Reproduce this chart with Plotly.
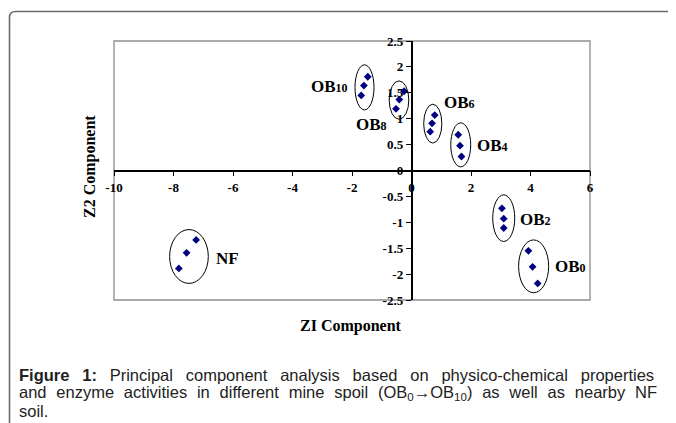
import plotly.graph_objects as go

# ---- data ----
groups = ["OB10", "OB8", "OB6", "OB4", "OB2", "OB0", "NF"]
pc1_OB10 = [-1.47, -1.60, -1.69]
pc2_OB10 = [1.81, 1.64, 1.45]
pc1_OB8 = [-0.25, -0.41, -0.52]
pc2_OB8 = [1.53, 1.37, 1.19]
pc1_OB6 = [0.78, 0.69, 0.63]
pc2_OB6 = [1.07, 0.91, 0.75]
pc1_OB4 = [1.57, 1.63, 1.68]
pc2_OB4 = [0.69, 0.48, 0.27]
pc1_OB2 = [3.04, 3.10, 3.10]
pc2_OB2 = [-0.73, -0.93, -1.11]
pc1_OB0 = [3.93, 4.07, 4.24]
pc2_OB0 = [-1.55, -1.86, -2.18]
pc1_NF = [-7.24, -7.56, -7.82]
pc2_NF = [-1.34, -1.59, -1.89]

x_ticks = [-10, -8, -6, -4, -2, 0, 2, 4, 6]
y_ticks = [-2.5, -2, -1.5, -1, -0.5, 0, 0.5, 1, 1.5, 2, 2.5]
y_tick_labels = ["-2.5", "-2", "-1.5", "-1", "-0.5", "0", "0.5", "1", "1.5", "2", "2.5"]

pc1 = pc1_OB10 + pc1_OB8 + pc1_OB6 + pc1_OB4 + pc1_OB2 + pc1_OB0 + pc1_NF
pc2 = pc2_OB10 + pc2_OB8 + pc2_OB6 + pc2_OB4 + pc2_OB2 + pc2_OB0 + pc2_NF

# ---- layout geometry (page has an 8px body margin) ----
OFF = 8
W, H = 676 - OFF, 423 - OFF
L, R, T, B = 114, 590, 41, 300   # plot area in window pixels


def px(x):
    return (x - L) / (R - L)


def py(y):
    return (B - y) / (B - T)


serif = "Liberation Serif, Times New Roman, serif"
sans = "Liberation Sans, Arial, sans-serif"

fig = go.Figure()
fig.add_trace(go.Scatter(
    x=pc1, y=pc2, mode="markers",
    marker=dict(symbol="diamond", size=6, color="#000080"),
    showlegend=False, hoverinfo="x+y",
))

# ellipses around groups
ellipses = [
    (-1.90, -1.26, 1.17, 2.04),
    (-0.75, -0.09, 0.99, 1.73),
    (0.41, 1.02, 0.53, 1.28),
    (1.32, 1.99, 0.07, 0.92),
    (2.73, 3.47, -1.37, -0.47),
    (3.60, 4.61, -2.36, -1.34),
    (-8.13, -6.83, -2.18, -1.14),
]
shapes = []
for x0, x1, y0, y1 in ellipses:
    shapes.append(dict(type="circle", xref="x", yref="y", x0=x0, x1=x1, y0=y0, y1=y1,
                       line=dict(color="black", width=1)))

# plot area border
shapes.append(dict(type="rect", xref="paper", yref="paper", x0=0, x1=1, y0=0, y1=1,
                   line=dict(color="#aaaaaa", width=1.8), layer="below"))
# outer figure frame (rounded top-left corner)
fx, fy, rr = 9.5, 11.5, 6
path = (f"M {px(fx)},{py(440)} L {px(fx)},{py(fy + rr)} "
        f"Q {px(fx)},{py(fy)} {px(fx + rr)},{py(fy)} L {px(700)},{py(fy)}")
shapes.append(dict(type="path", xref="paper", yref="paper", path=path,
                   line=dict(color="#6a6a6a", width=1.6)))

lab_font = dict(family=serif, size=17, color="black", weight="bold")


def lab(base, sub):
    return f"{base}<span style='font-size:12px'>{sub}</span>"


labels = [
    (-2.08, 1.62, lab("OB", "10"), "right"),
    (-1.92, 0.88, lab("OB", "8"), "left"),
    (1.03, 1.32, lab("OB", "6"), "left"),
    (2.14, 0.49, lab("OB", "4"), "left"),
    (3.59, -0.94, lab("OB", "2"), "left"),
    (4.75, -1.86, lab("OB", "0"), "left"),
    (-6.63, -1.70, "NF", "left"),
]
annotations = []
for x, y, t, xa in labels:
    annotations.append(dict(x=x, y=y, xref="x", yref="y", text=t, showarrow=False,
                            xanchor=xa, yanchor="middle", font=lab_font))

title_font = dict(family=serif, size=16, color="black", weight="bold")
annotations.append(dict(x=px(351), y=py(326), xref="paper", yref="paper", text="ZI Component",
                        showarrow=False, xanchor="center", yanchor="middle", font=title_font))
annotations.append(dict(x=px(90), y=py(167), xref="paper", yref="paper", text="Z2 Component",
                        showarrow=False, xanchor="center", yanchor="middle", textangle=-90,
                        font=title_font))

cap_font = dict(family=sans, size=16.5, color="#222222")
caption_lines = [
    ("<span style='word-spacing:8.2px'><b>Figure 1:</b> Principal component analysis based on "
     "physico-chemical properties</span>", 375),
    ("<span style='word-spacing:5.2px'>and enzyme activities in different mine spoil "
     "(OB<sub>0</sub>→OB<sub>10</sub>) as well as nearby NF</span>", 393),
    ("soil.", 411),
]
for t, yc in caption_lines:
    annotations.append(dict(x=px(17), y=py(yc), xref="paper", yref="paper", text=t,
                            showarrow=False, xanchor="left", yanchor="middle", align="left",
                            font=cap_font))

tick_font = dict(family=serif, size=13, color="black", weight="bold")
fig.update_layout(
    width=W, height=H,
    margin=dict(l=L - OFF, r=W - (R - OFF), t=T - OFF, b=H - (B - OFF), pad=0),
    paper_bgcolor="white", plot_bgcolor="white",
    xaxis=dict(range=[-10, 6], tickvals=x_ticks, ticktext=[str(v) for v in x_ticks],
               showgrid=False, zeroline=False, showline=True, linecolor="black", linewidth=1.5,
               ticks="outside", ticklen=5, tickcolor="black", tickwidth=1.2,
               anchor="free", position=0.5, tickfont=tick_font),
    yaxis=dict(range=[-2.5, 2.5], tickvals=y_ticks, ticktext=y_tick_labels,
               showgrid=False, zeroline=False, showline=True, linecolor="black", linewidth=1.5,
               ticks="outside", ticklen=5, tickcolor="black", tickwidth=1.2,
               anchor="free", position=0.625, tickfont=tick_font),
    shapes=shapes, annotations=annotations,
)

fig.write_html("out.html")
